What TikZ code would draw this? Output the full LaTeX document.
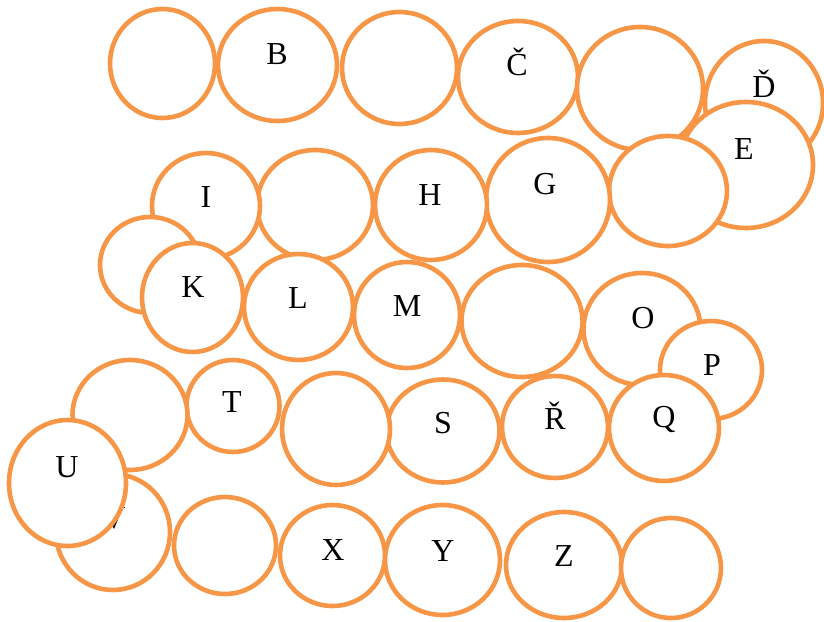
\documentclass[tikz,border=0pt]{standalone}
\usepackage{fontspec}
\setmainfont{Liberation Serif}
\usetikzlibrary{shapes.geometric}
\definecolor{bubOrange}{HTML}{F79646}
\begin{document}
\begin{tikzpicture}[x=1pt,y=-1pt,
  bub/.style={ellipse, draw=bubOrange, line width=4.6pt, fill=white, inner sep=0pt, outer sep=0pt},
  lab/.style={anchor=base, inner sep=0pt, font=\fontsize{32}{36}\selectfont, text=black}]
\useasboundingbox (0,0) rectangle (824,621);
% row 1
\node[bub, minimum width=105pt, minimum height=109pt] (a) at (162.5,63.5) {};
\node[bub, minimum width=119pt, minimum height=112pt] (b) at (277.5,65) {};
\node[lab] (lb) at (277,64) {B};
\node[bub, minimum width=115pt, minimum height=112pt] (c) at (399.5,68) {};
\node[bub, minimum width=120pt, minimum height=112pt] (cc) at (518,77) {};
\node[lab] (lcc) at (517,75) {Č};
\node[bub, minimum width=126pt, minimum height=123pt] (d) at (640,88.5) {};
\node[bub, minimum width=118pt, minimum height=124pt] (dd) at (764,103) {};
\node[lab] (ldd) at (764,97) {Ď};
\node[bub, minimum width=134pt, minimum height=126pt] (e) at (746,165) {};
\node[lab] (le) at (744,159) {E};
\node[bub, minimum width=118pt, minimum height=110pt] (f) at (668,191) {};
% row 2
\node[bub, minimum width=124pt, minimum height=124pt] (g) at (548,200) {};
\node[lab] (lg) at (545,194) {G};
\node[bub, minimum width=112pt, minimum height=110pt] (h) at (431,205) {};
\node[lab] (lh) at (430,205) {H};
\node[bub, minimum width=116pt, minimum height=110pt] (ch) at (315,205) {};
\node[bub, minimum width=108pt, minimum height=106pt] (i) at (206,206) {};
\node[lab] (li) at (206,207) {I};
\node[bub, minimum width=100pt, minimum height=96pt] (j) at (150,265) {};
% row 3
\node[bub, minimum width=101pt, minimum height=109pt] (k) at (192.5,297.5) {};
\node[lab] (lk) at (193,297) {K};
\node[bub, minimum width=109pt, minimum height=106pt] (l) at (298.5,307) {};
\node[lab] (ll) at (298,308) {L};
\node[bub, minimum width=106pt, minimum height=106pt] (m) at (407,315) {};
\node[lab] (lm) at (407,316) {M};
\node[bub, minimum width=121pt, minimum height=112pt] (n) at (522,321) {};
\node[bub, minimum width=117pt, minimum height=112pt] (o) at (642,329) {};
\node[lab] (lo) at (643,328) {O};
\node[bub, minimum width=102pt, minimum height=98pt] (p) at (711,370) {};
\node[lab] (lp) at (712,375) {P};
\node[bub, minimum width=110pt, minimum height=106pt] (q) at (664,428) {};
\node[lab] (lq) at (664,427) {Q};
% row 4
\node[bub, minimum width=106pt, minimum height=102pt] (rr) at (555,427) {};
\node[lab] (lrr) at (555,429) {Ř};
\node[bub, minimum width=113pt, minimum height=103pt] (s) at (443,431) {};
\node[lab] (ls) at (443,433) {S};
\node[bub, minimum width=108pt, minimum height=112pt] (ss) at (336,429) {};
\node[bub, minimum width=93pt, minimum height=92pt] (t) at (233,406) {};
\node[lab] (lt) at (232,412) {T};
\node[bub, minimum width=115pt, minimum height=110pt] (r) at (130,415) {};
% row 5
\node[bub, minimum width=114pt, minimum height=116pt] (v) at (113,532) {};
\node[lab] (lv) at (114,528) {V};
\node[bub, minimum width=117pt, minimum height=126pt] (u) at (67.5,483) {};
\node[lab] (lu) at (67,477) {U};
\node[bub, minimum width=102pt, minimum height=97pt] (w) at (225,545.5) {};
\node[bub, minimum width=105pt, minimum height=101pt] (x) at (332.5,555.5) {};
\node[lab] (lx) at (333,560) {X};
\node[bub, minimum width=115pt, minimum height=110pt] (y) at (442.5,560) {};
\node[lab] (ly) at (443,561) {Y};
\node[bub, minimum width=116pt, minimum height=106pt] (z) at (564,565) {};
\node[lab] (lz) at (564,566) {Z};
\node[bub, minimum width=100pt, minimum height=100pt] (zz) at (671,568) {};
\end{tikzpicture}
\end{document}
